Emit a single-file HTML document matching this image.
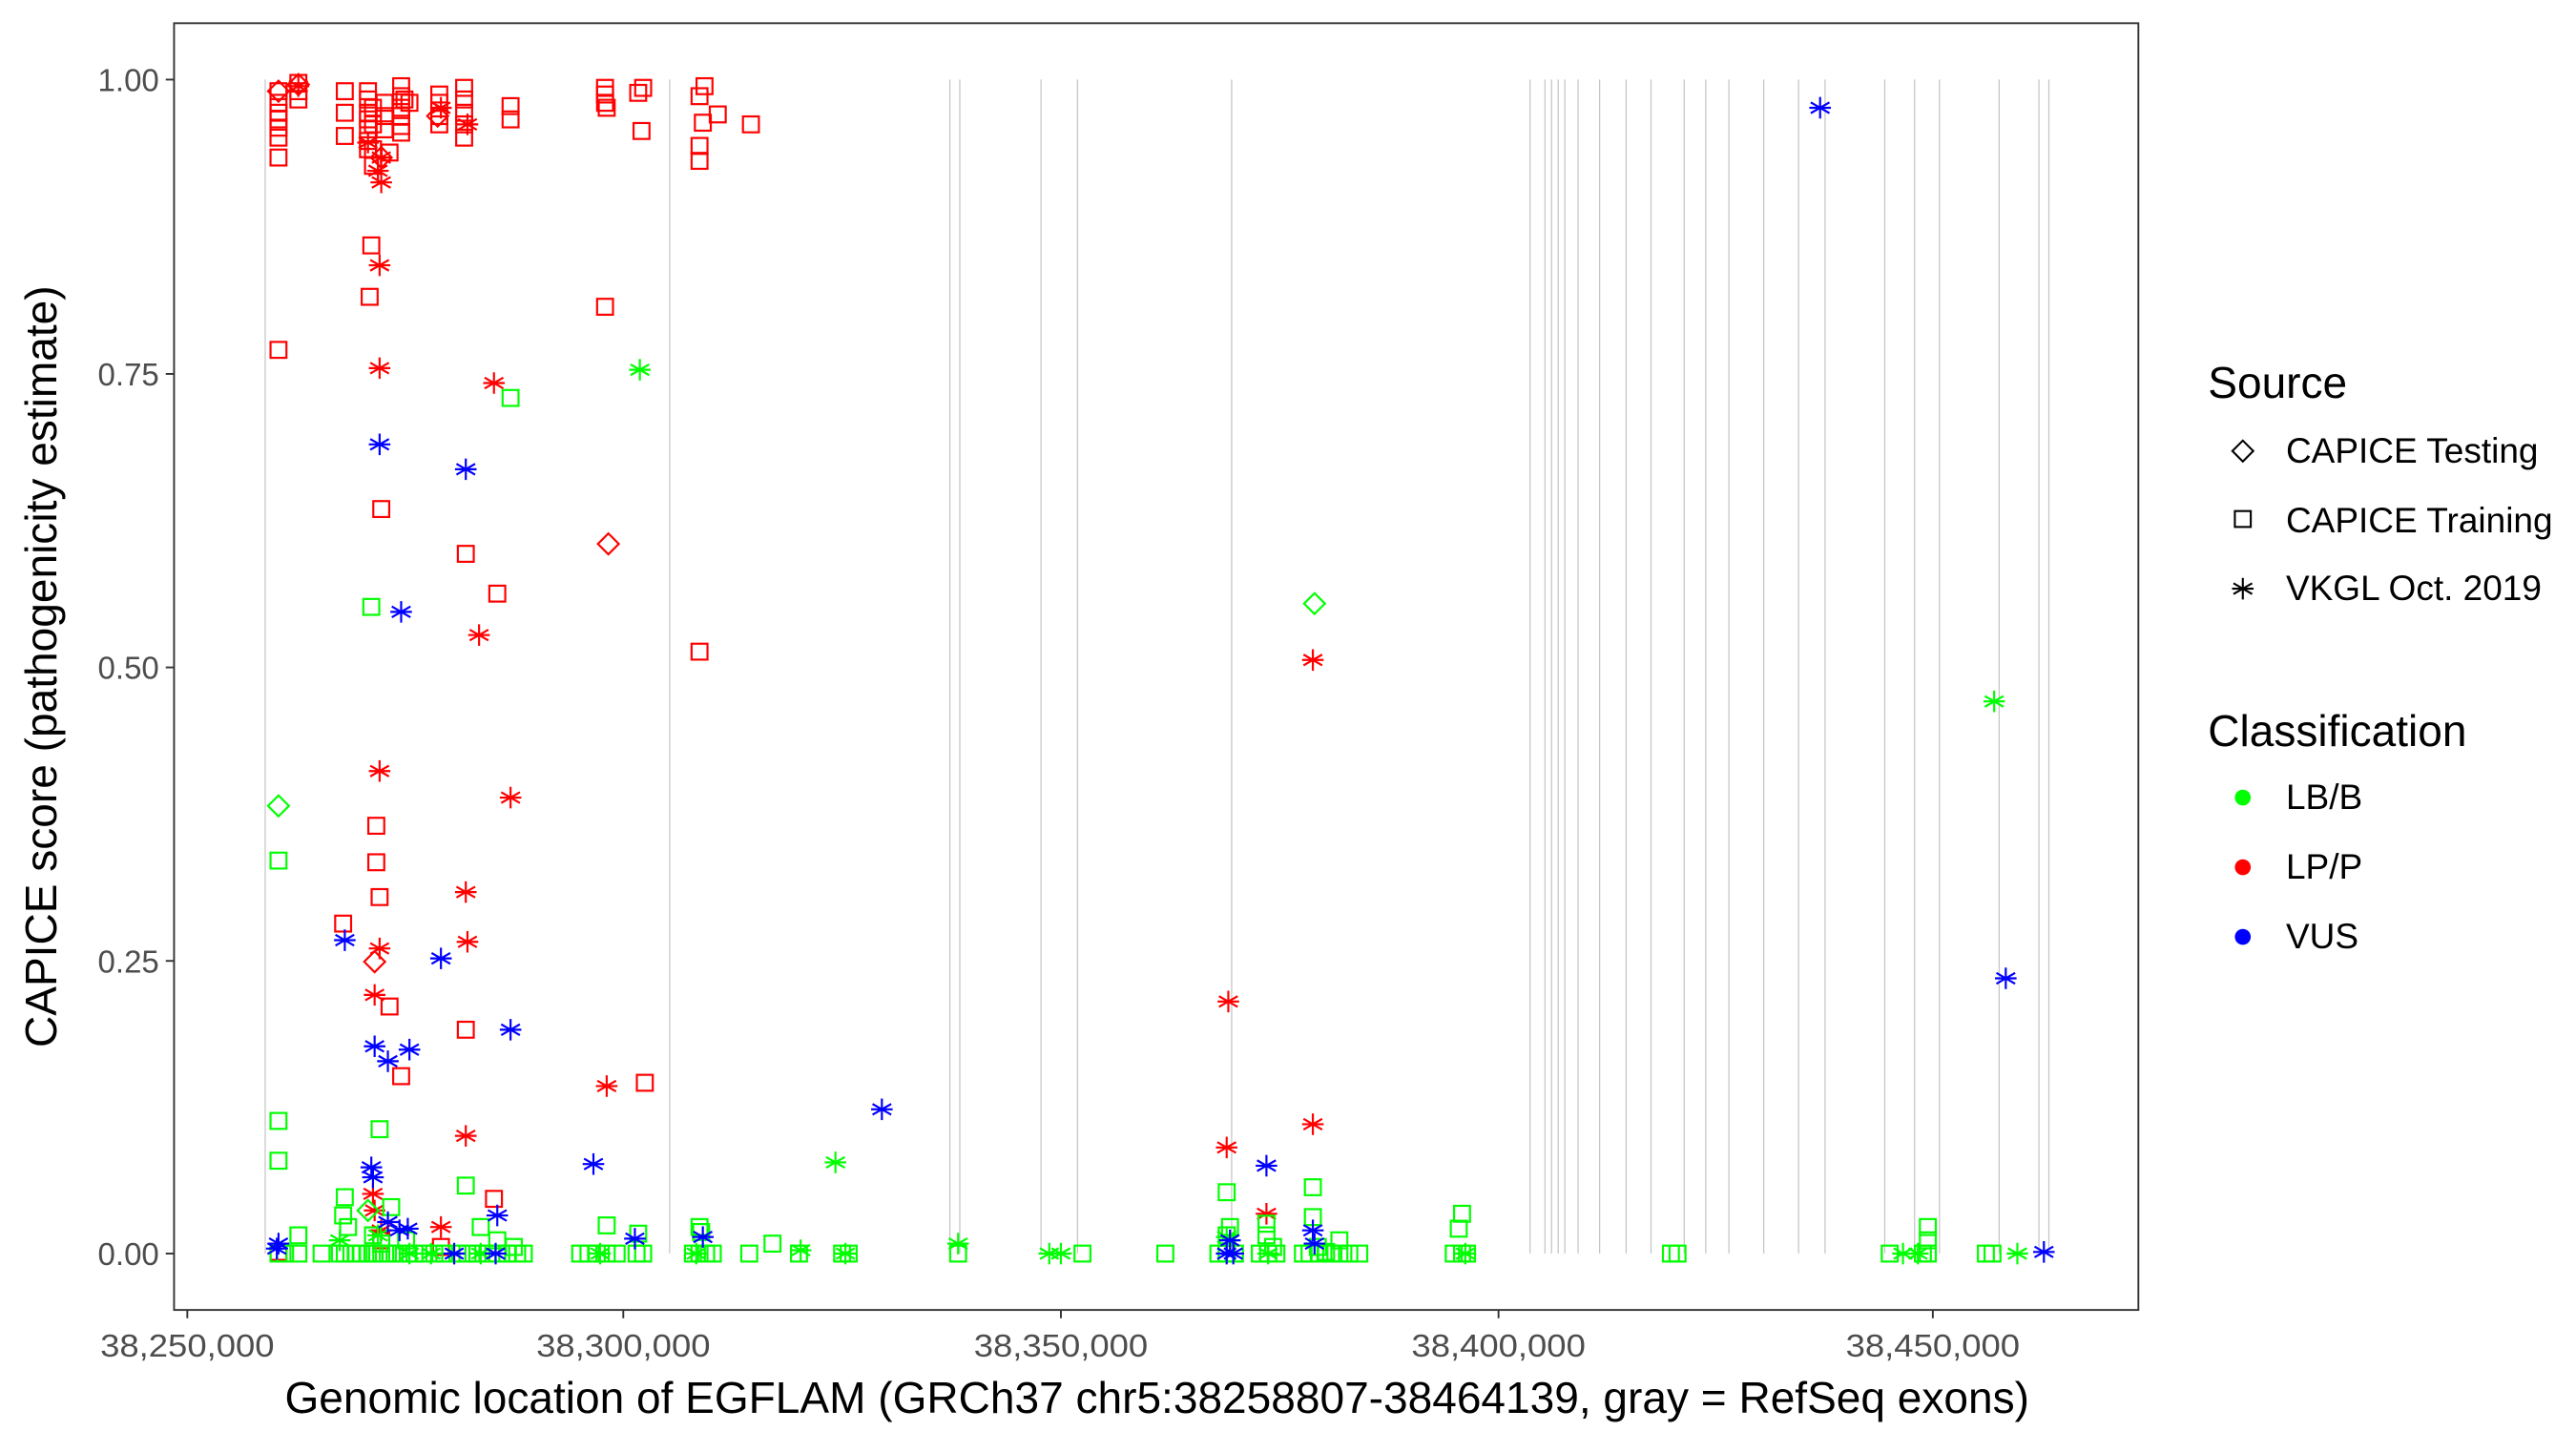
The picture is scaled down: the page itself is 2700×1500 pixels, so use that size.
<!DOCTYPE html>
<html><head><meta charset="utf-8">
<style>
html,body{margin:0;padding:0;background:#fff;}
svg{display:block;}
text{font-family:"Liberation Sans",Arial,sans-serif;}
</style></head>
<body>
<svg id="s" width="2700" height="1500" viewBox="0 0 1554 863" preserveAspectRatio="none" xmlns="http://www.w3.org/2000/svg">
<rect x="0" y="0" width="1554" height="863" fill="#fff"/>
<g id="exons" stroke="#c4c4c4" stroke-width="0.7"></g>
<g id="pts" fill="none" stroke-width="1.25"></g>
<rect x="105" y="14" width="1185" height="776" fill="none" stroke="#333" stroke-width="1.1"/>
<g stroke="#333" stroke-width="1.1">
<line x1="100" y1="48" x2="105" y2="48"/><line x1="100" y1="225.5" x2="105" y2="225.5"/>
<line x1="100" y1="402.5" x2="105" y2="402.5"/><line x1="100" y1="579.5" x2="105" y2="579.5"/>
<line x1="100" y1="756" x2="105" y2="756"/>
<line x1="113" y1="790" x2="113" y2="795"/><line x1="376" y1="790" x2="376" y2="795"/>
<line x1="640" y1="790" x2="640" y2="795"/><line x1="904" y1="790" x2="904" y2="795"/>
<line x1="1166" y1="790" x2="1166" y2="795"/>
</g>
<g fill="#4d4d4d" font-size="19" text-anchor="end">
<text x="96" y="55">1.00</text><text x="96" y="232.5">0.75</text>
<text x="96" y="409.5">0.50</text><text x="96" y="586.5">0.25</text>
<text x="96" y="763">0.00</text>
</g>
<g fill="#4d4d4d" font-size="19" text-anchor="middle" textLength="105">
<text x="113" y="818" textLength="105" lengthAdjust="spacingAndGlyphs">38,250,000</text>
<text x="376" y="818" textLength="105" lengthAdjust="spacingAndGlyphs">38,300,000</text>
<text x="640" y="818" textLength="105" lengthAdjust="spacingAndGlyphs">38,350,000</text>
<text x="904" y="818" textLength="105" lengthAdjust="spacingAndGlyphs">38,400,000</text>
<text x="1166" y="818" textLength="105" lengthAdjust="spacingAndGlyphs">38,450,000</text>
</g>
<text x="698" y="852" font-size="26.5" text-anchor="middle" fill="#000">Genomic location of EGFLAM (GRCh37 chr5:38258807-38464139, gray = RefSeq exons)</text>
<text transform="translate(34,402) rotate(-90)" font-size="26.5" text-anchor="middle" fill="#000">CAPICE score (pathogenicity estimate)</text>
<text x="1332" y="240" font-size="26.5" fill="#000">Source</text>
<g font-size="21.3" fill="#000">
<text x="1379" y="279">CAPICE Testing</text>
<text x="1379" y="321">CAPICE Training</text>
<text x="1379" y="362">VKGL Oct. 2019</text>
</g>
<text x="1332" y="450" font-size="26.5" fill="#000">Classification</text>
<g font-size="21.3" fill="#000">
<text x="1379" y="488">LB/B</text>
<text x="1379" y="530">LP/P</text>
<text x="1379" y="572">VUS</text>
</g>
<circle cx="1353" cy="481" r="4.8" fill="#00ff00"/>
<circle cx="1353" cy="523" r="4.8" fill="#ff0000"/>
<circle cx="1353" cy="565" r="4.8" fill="#0000ff"/>
<g id="leg" fill="none" stroke="#000" stroke-width="1.2"></g>
</svg>
<script>
var NS="http://www.w3.org/2000/svg";
function el(p,t,a){var e=document.createElementNS(NS,t);for(var k in a)e.setAttribute(k,a[k]);p.appendChild(e);return e;}
var ex=document.getElementById("exons");
[160,404,573,579,628,650,743,923,932,936,940,944,952,965,981,996,1016,1029,1043,1064,1085,1101,1137,1155,1170,1206,1230,1236].forEach(function(x){el(ex,"line",{x1:x,x2:x,y1:48,y2:756});});
var P=document.getElementById("pts");
function mk(g,sh,x,y,c){
 if(sh=="s")el(g,"rect",{x:x-4.8,y:y-4.8,width:9.6,height:9.6,stroke:c});
 else if(sh=="d")el(g,"path",{d:"M"+x+" "+(y-6.3)+"L"+(x+6.3)+" "+y+"L"+x+" "+(y+6.3)+"L"+(x-6.3)+" "+y+"Z",stroke:c});
 else{var r=6.5,d="M"+(x-r)+" "+y+"L"+(x+r)+" "+y;
  [90,30,150].forEach(function(a){var t=a*Math.PI/180,dx=r*Math.cos(t),dy=r*Math.sin(t);d+="M"+(x-dx)+" "+(y-dy)+"L"+(x+dx)+" "+(y+dy);});
  el(g,"path",{d:d,stroke:c});}
}
var R="#ff0000",G="#00ff00",B="#0000ff";
var data=[
[R,"s",[[168,55],[168,62],[168,68],[168,72],[168,77],[168,83],[168,95],[180,50],[180,55],[180,60],[208,55],[208,68],[208,82],[222,55],[222,60],[222,68],[222,72],[222,78],[222,85],[222,90],[225,65],[225,75],[225,90],[225,100],[232,62],[232,70],[232,78],[235,92],[242,52],[242,58],[242,65],[242,70],[242,76],[242,80],[244,60],[247,62],[265,57],[265,62],[265,70],[265,75],[280,53],[280,60],[280,68],[280,75],[280,83],[308,64],[308,72],[365,53],[365,57],[365,62],[366,65],[385,56],[388,53],[387,79],[422,58],[422,88],[422,97],[425,52],[424,74],[433,69],[453,75],
[224,148],[223,179],[230,307],[281,334],[300,358],[168,211],[365,185],[422,393],[207,557],[227,498],[227,520],[229,541],[235,607],[242,649],[281,621],[389,653],[298,723],[168,755],[230,748],[266,752]]],
[R,"a",[[228,103],[230,110],[229,160],[229,222],[298,231],[289,383],[229,465],[308,481],[281,538],[282,568],[229,572],[226,600],[281,685],[366,655],[741,604],[792,398],[792,678],[764,732],[740,692],[225,720],[226,730],[266,740],[230,742],[180,52],[266,65],[282,75],[230,95],[222,86]]],
[R,"d",[[168,55],[230,95],[367,328],[264,70],[226,580],[180,51]]],
[G,"s",[[168,519],[168,676],[168,700],[308,240],[224,366],[229,681],[281,715],[208,722],[207,733],[236,728],[366,739],[385,744],[422,740],[423,743],[466,750],[740,719],[792,716],[792,734],[882,732],[880,741],[1163,740],[1163,748],[764,738],[764,745],[808,748],[180,745],[210,740],[230,750],[245,748],[290,740],[300,748],[310,752],[225,745],[740,745],[742,740],[768,752],[795,752],[800,755],
[168,756],[172,756],[180,756],[194,756],[205,756],[208,756],[212,756],[215,756],[218,756],[222,756],[226,756],[230,756],[234,756],[238,756],[242,756],[246,756],[250,756],[256,756],[262,756],[268,756],[276,756],[282,756],[288,756],[294,756],[300,756],[306,756],[312,756],[316,756],[350,756],[355,756],[360,756],[366,756],[372,756],[384,756],[388,756],[418,756],[422,756],[426,756],[430,756],[452,756],[482,756],[508,756],[512,756],[578,756],[653,756],[703,756],[735,756],[740,756],[745,756],[760,756],[765,756],[770,756],[786,756],[790,756],[796,756],[803,756],[808,756],[814,756],[820,756],[877,756],[882,756],[885,756],[1008,756],[1012,756],[1140,756],[1160,756],[1163,756],[1198,756],[1202,756]]],
[G,"a",[[386,223],[504,701],[1203,423],[578,750],[633,756],[640,756],[483,754],[205,748],[1148,756],[1217,756],[1157,756],[228,745],[884,756],[740,746],[247,756],[260,756],[290,756],[362,756],[420,756],[510,756],[765,756]]],
[G,"d",[[168,486],[793,364],[222,730]]],
[B,"a",[[1098,65],[229,268],[281,283],[242,369],[208,567],[266,578],[308,621],[226,631],[234,640],[247,633],[532,669],[358,702],[764,703],[224,704],[225,710],[234,737],[241,742],[246,741],[300,733],[168,750],[167,753],[274,756],[299,756],[383,747],[424,746],[742,748],[744,756],[792,742],[793,750],[1210,590],[1233,755],[740,756]]]
];
data.forEach(function(s){s[2].forEach(function(p){mk(P,s[1],p[0],p[1],s[0]);});});
var L=document.getElementById("leg");
mk(L,"d",1353,272,"#000");mk(L,"s",1353,313,"#000");mk(L,"a",1353,355,"#000");
</script>
</body></html>
